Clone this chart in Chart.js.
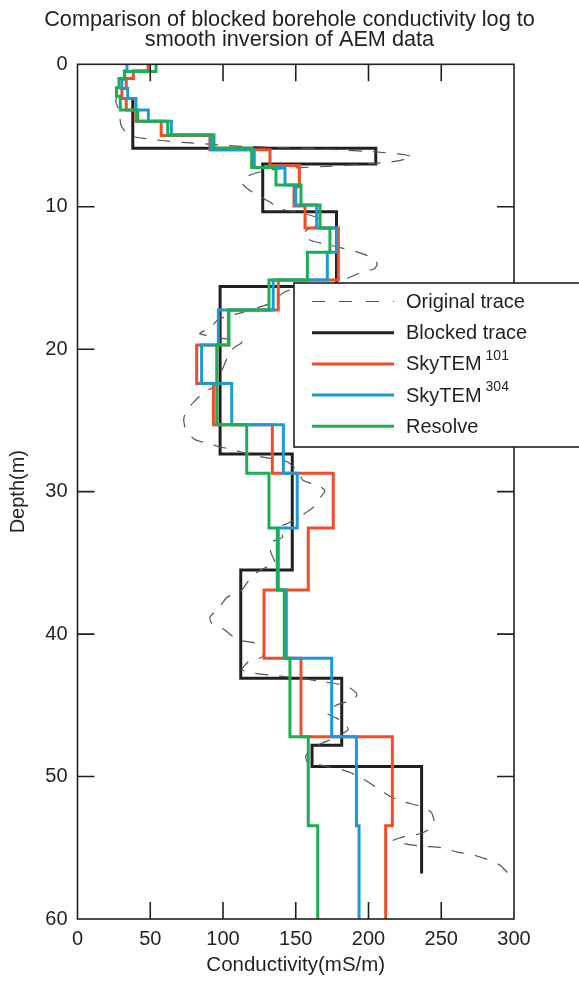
<!DOCTYPE html>
<html>
<head>
<meta charset="utf-8">
<script src="https://cdn.jsdelivr.net/npm/chart.js@4.4.1/dist/chart.umd.min.js"></script>
<style>
  html, body { margin: 0; padding: 0; background: #fff; }
  #wrap { width: 579px; height: 981px; position: relative; }
</style>
</head>
<body>
<div id="wrap"><canvas id="myChart"></canvas></div>
<script>
// layer boundaries (depth, m) and the conductivity of each layer (mS/m)
var blockedDepth = [2.3, 5.9, 7.0, 10.35, 15.6, 27.35, 35.5, 43.1, 47.8, 49.3, 56.8];
var blockedCond = [38, 205, 127.3, 178, 98, 147.6, 112.2, 181.6, 161.2, 236.5];

var sky101Depth = [0, 0.45, 1.0, 1.7, 2.4, 3.2, 4.0, 5.0, 6.0, 7.1, 8.6, 9.95, 11.5, 15.14, 17.24, 19.7, 22.4, 25.3, 28.7, 32.56, 36.9, 41.7, 47.2, 53.45, 60];
var sky101Cond = [48.5, 38.4, 33.5, 30.5, 33.5, 40.2, 57.5, 91, 132.3, 152.5, 148.8, 156.4, 179.3, 138, 103.7, 81.9, 93.4, 133.9, 175.8, 158.6, 128.2, 153.6, 216.4, 211.8];

var sky304Depth = [0, 0.45, 1.05, 1.7, 2.4, 3.2, 4.0, 4.95, 6.0, 7.24, 8.47, 9.87, 11.5, 13.2, 15.14, 17.24, 19.7, 22.4, 25.3, 28.7, 32.56, 36.9, 41.7, 47.2, 53.45, 60];
var sky304Cond = [34.0, 32.2, 30.5, 34.5, 40.2, 48.7, 64.5, 92, 121.5, 142.6, 150, 164.4, 178.1, 171.7, 134.5, 96.8, 85.3, 106, 141.5, 151, 138, 143.5, 174.7, 191.7, 193.5];

var resolveDepth = [0, 0.5, 1.0, 1.65, 2.25, 3.2, 4.0, 4.96, 5.9, 7.24, 8.47, 9.87, 11.5, 13.2, 15.14, 17.24, 19.7, 25.3, 28.7, 32.56, 36.9, 41.7, 47.2, 53.45, 60];
var resolveCond = [54, 32.5, 28.5, 26.8, 29.4, 41.4, 62, 93.8, 119.7, 136.4, 153.6, 166.7, 173.5, 158, 131.6, 104.1, 95.7, 116.3, 131.6, 137.3, 142.1, 146, 158.6, 165.1];

// original borehole log, read point by point
var originalDepth = [2.2, 2.6, 3.1, 3.7, 4.3, 4.75, 5.05, 5.22, 5.35, 5.48, 5.6, 5.7, 5.77, 5.83, 5.9, 6.0, 6.15, 6.35, 6.5, 6.8, 6.95, 7.15, 7.3, 7.45, 7.8, 8.3, 8.75, 9.2, 9.6, 10.2, 10.35, 10.6, 10.9, 11.3, 11.6, 11.95, 12.35, 12.65, 12.9, 13.2, 13.6, 14.0, 14.35, 14.65, 15.0, 15.35, 15.65, 15.95, 16.8, 17.1, 17.4, 17.65, 17.9, 18.5, 18.9, 19.2, 19.5, 19.95, 20.6, 21.3, 22.6, 23.1, 23.7, 24.3, 24.9, 25.5, 26.3, 26.6, 26.8, 27.0, 27.2, 27.4, 27.7, 27.9, 28.5, 29.2, 29.6, 29.95, 30.4, 31.1, 31.6, 32.2, 32.5, 33.2, 33.6, 34.3, 35.1, 35.3, 35.7, 36.2, 37.0, 37.4, 38.3, 38.8, 39.2, 39.7, 40.4, 40.6, 40.9, 41.6, 41.9, 42.5, 42.75, 42.9, 43.0, 43.1, 43.3, 43.45, 43.7, 44.2, 44.6, 44.9, 45.3, 45.6, 45.9, 46.3, 46.7, 47.0, 47.4, 47.9, 48.5, 49.0, 49.2, 49.4, 49.7, 50.2, 50.8, 51.4, 51.8, 52.1, 52.5, 53.1, 53.6, 54.0, 54.2, 54.5, 54.8, 54.9, 55.0, 55.3, 55.5, 55.8, 56.2, 56.8];
var originalCond = [27, 26.3, 28, 29, 30, 33, 37, 47, 58, 72, 90, 101, 118, 135, 160, 180, 205, 225, 230, 219, 205, 175, 145, 130, 118, 113, 117, 124, 131, 141, 150, 160, 167, 166, 158, 155, 160, 172, 182, 193, 203, 206, 204, 194, 186, 178, 160, 143, 132, 123, 114, 105, 97, 91, 84, 98, 113, 107, 103, 100, 94, 86, 80, 75, 73, 74, 80, 89, 96, 104, 112, 119, 134, 144, 151, 155, 166, 170, 167, 162, 155, 145, 139, 141, 132, 133, 136, 130, 123, 118, 112, 103, 96, 91, 92, 101, 110, 121, 128, 127, 118, 113, 122, 134, 144, 155, 165, 176, 186, 192, 190, 180, 172, 172, 178, 184, 186, 182, 174, 163, 157, 158, 167, 177, 187, 197, 206, 215, 225, 236, 243, 245, 243, 236, 225, 217, 229, 239, 250, 261, 272, 281, 290, 296];

var seriesNames = ["Original trace", "Blocked trace", "SkyTEM", "SkyTEM", "Resolve"];
var seriesSup = ["", "", "101", "304", ""];
var seriesColors = ["#555555", "#231f20", "#f04e28", "#1b9ad6", "#1aaf54"];

var titleLines = ["Comparison of blocked borehole conductivity log to", "smooth inversion of AEM data"];
var xTicks = [0, 50, 100, 150, 200, 250, 300];
var yTicks = [0, 10, 20, 30, 40, 50, 60];

var FONT = "'Liberation Sans', Arial, Helvetica, sans-serif";

function steps(depths, conds) {
  var pts = [];
  for (var i = 0; i < conds.length; i++) {
    pts.push({x: conds[i], y: depths[i]});
    pts.push({x: conds[i], y: depths[i + 1]});
  }
  return pts;
}

function curve(depths, conds) {
  return depths.map(function (d, i) { return {x: conds[i], y: d}; });
}

// title centred on the whole page, not on the plot
var pageTitle = {
  id: "pageTitle",
  afterDraw: function (chart) {
    var ctx = chart.ctx;
    ctx.save();
    ctx.fillStyle = "#231f20";
    ctx.font = "21.7px " + FONT;
    ctx.textAlign = "center";
    ctx.textBaseline = "middle";
    ctx.fillText(titleLines[0], chart.width / 2, 20);
    ctx.fillText(titleLines[1], chart.width / 2, 40.5);
    ctx.restore();
  }
};

// frame with inward ticks on all four sides
var frame = {
  id: "frame",
  afterDatasetsDraw: function (chart) {
    var ctx = chart.ctx, a = chart.chartArea, x = chart.scales.x, y = chart.scales.y;
    var len = 17;
    ctx.save();
    ctx.strokeStyle = "#231f20";
    ctx.lineWidth = 1.6;
    ctx.strokeRect(a.left, a.top, a.right - a.left, a.bottom - a.top);
    ctx.beginPath();
    x.ticks.forEach(function (t) {
      var px = x.getPixelForValue(t.value);
      if (px <= a.left + 1 || px >= a.right - 1) return;
      ctx.moveTo(px, a.bottom); ctx.lineTo(px, a.bottom - len);
      ctx.moveTo(px, a.top); ctx.lineTo(px, a.top + len);
    });
    y.ticks.forEach(function (t) {
      var py = y.getPixelForValue(t.value);
      if (py <= a.top + 1 || py >= a.bottom - 1) return;
      ctx.moveTo(a.left, py); ctx.lineTo(a.left + len, py);
      ctx.moveTo(a.right, py); ctx.lineTo(a.right - len, py);
    });
    ctx.stroke();
    ctx.restore();
  }
};

// legend box, sits partly outside the plot on the right
var boxLegend = {
  id: "boxLegend",
  afterDraw: function (chart) {
    var ctx = chart.ctx;
    var left = 294, top = 283, bottom = 447, right = 600;
    ctx.save();
    ctx.fillStyle = "#fff";
    ctx.fillRect(left, top, right - left, bottom - top);
    ctx.strokeStyle = "#231f20";
    ctx.lineWidth = 1.6;
    ctx.strokeRect(left, top, right - left, bottom - top);
    for (var i = 0; i < seriesNames.length; i++) {
      var yy = 301.5 + i * 31.2;
      ctx.beginPath();
      ctx.strokeStyle = seriesColors[i];
      if (i === 0) {
        ctx.lineWidth = 1.2;
        ctx.setLineDash([13, 14]);
      } else {
        ctx.lineWidth = 3;
        ctx.setLineDash([]);
      }
      ctx.moveTo(312, yy);
      ctx.lineTo(394, yy);
      ctx.stroke();
      ctx.setLineDash([]);
      ctx.fillStyle = "#231f20";
      ctx.font = "20px " + FONT;
      ctx.textBaseline = "middle";
      ctx.textAlign = "left";
      ctx.fillText(seriesNames[i], 406, yy + 1);
      if (seriesSup[i]) {
        var w = ctx.measureText(seriesNames[i]).width;
        ctx.font = "14px " + FONT;
        ctx.fillText(seriesSup[i], 406 + w + 4, yy - 8);
      }
    }
    ctx.restore();
  }
};

new Chart("myChart", {
  type: "scatter",
  data: {
    datasets: [{
      label: "Resolve",
      data: steps(resolveDepth, resolveCond),
      borderColor: seriesColors[4],
      borderWidth: 3,
      showLine: true,
      pointRadius: 0,
      fill: false
    }, {
      label: "SkyTEM 304",
      data: steps(sky304Depth, sky304Cond),
      borderColor: seriesColors[3],
      borderWidth: 3,
      showLine: true,
      pointRadius: 0,
      fill: false
    }, {
      label: "SkyTEM 101",
      data: steps(sky101Depth, sky101Cond),
      borderColor: seriesColors[2],
      borderWidth: 3,
      showLine: true,
      pointRadius: 0,
      fill: false
    }, {
      label: "Original trace",
      data: curve(originalDepth, originalCond),
      borderColor: seriesColors[0],
      borderWidth: 1.2,
      borderDash: [13, 11],
      tension: 0.2,
      showLine: true,
      pointRadius: 0,
      fill: false
    }, {
      label: "Blocked trace",
      data: steps(blockedDepth, blockedCond),
      borderColor: seriesColors[1],
      borderWidth: 3,
      showLine: true,
      pointRadius: 0,
      fill: false
    }]
  },
  options: {
    responsive: true,
    maintainAspectRatio: false,
    animation: false,
    layout: {padding: {top: 64.3, right: 65, bottom: 0, left: 0}},
    plugins: {
      legend: {display: false},
      tooltip: {enabled: false},
      title: {display: false}
    },
    scales: {
      x: {
        type: "linear",
        min: 0,
        max: 300,
        afterFit: function (s) { s.height = 62; },
        afterBuildTicks: function (s) { s.ticks = xTicks.map(function (v) { return {value: v}; }); },
        grid: {drawOnChartArea: false, drawTicks: false},
        border: {display: false},
        ticks: {color: "#231f20", font: {family: FONT, size: 20}, padding: 8, maxRotation: 0, autoSkip: false},
        title: {display: true, text: "Conductivity(mS/m)", color: "#231f20", font: {family: FONT, size: 20.5}, padding: {top: 0, bottom: 3}}
      },
      y: {
        type: "linear",
        reverse: true,
        min: 0,
        max: 60,
        afterFit: function (s) { s.width = 77.5; },
        afterBuildTicks: function (s) { s.ticks = yTicks.map(function (v) { return {value: v}; }); },
        grid: {drawOnChartArea: false, drawTicks: false},
        border: {display: false},
        ticks: {color: "#231f20", font: {family: FONT, size: 20}, padding: 10, autoSkip: false},
        title: {display: true, text: "Depth(m)", color: "#231f20", font: {family: FONT, size: 20}, padding: {top: 6, bottom: 0}}
      }
    }
  },
  plugins: [frame, boxLegend, pageTitle]
});
</script>
</body>
</html>
